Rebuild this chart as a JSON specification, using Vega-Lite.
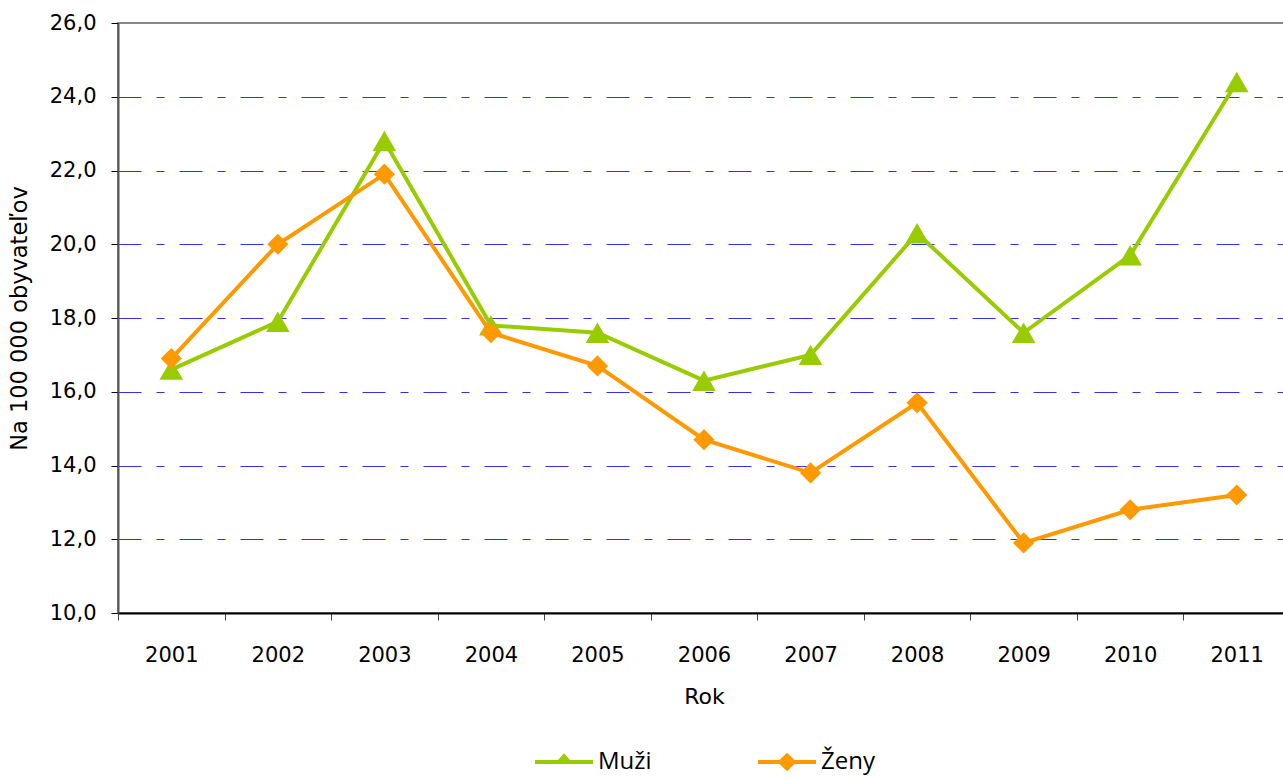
{
  "$schema": "https://vega.github.io/schema/vega-lite/v6.json",
  "width": 1172,
  "height": 590,
  "autosize": {"type": "none"},
  "padding": {"left": 118, "top": 23, "right": 0, "bottom": 165},
  "background": "white",
  "config": {
    "locale": {"number": {"decimal": ",", "thousands": " ", "grouping": [3], "currency": ["", " €"]}},
    "view": {"stroke": "#888888", "strokeWidth": 2},
    "axis": {"labelFont": "DejaVu Sans", "titleFont": "DejaVu Sans", "labelColor": "#000000", "titleColor": "#000000", "titleFontWeight": "normal"}
  },
  "data": {
    "values": [
      {"rok": "2001", "pohlavie": "Muži", "hodnota": 16.6},
      {"rok": "2002", "pohlavie": "Muži", "hodnota": 17.9},
      {"rok": "2003", "pohlavie": "Muži", "hodnota": 22.8},
      {"rok": "2004", "pohlavie": "Muži", "hodnota": 17.8},
      {"rok": "2005", "pohlavie": "Muži", "hodnota": 17.6},
      {"rok": "2006", "pohlavie": "Muži", "hodnota": 16.3},
      {"rok": "2007", "pohlavie": "Muži", "hodnota": 17.0},
      {"rok": "2008", "pohlavie": "Muži", "hodnota": 20.3},
      {"rok": "2009", "pohlavie": "Muži", "hodnota": 17.6},
      {"rok": "2010", "pohlavie": "Muži", "hodnota": 19.7},
      {"rok": "2011", "pohlavie": "Muži", "hodnota": 24.4},
      {"rok": "2001", "pohlavie": "Ženy", "hodnota": 16.9},
      {"rok": "2002", "pohlavie": "Ženy", "hodnota": 20.0},
      {"rok": "2003", "pohlavie": "Ženy", "hodnota": 21.9},
      {"rok": "2004", "pohlavie": "Ženy", "hodnota": 17.6},
      {"rok": "2005", "pohlavie": "Ženy", "hodnota": 16.7},
      {"rok": "2006", "pohlavie": "Ženy", "hodnota": 14.7},
      {"rok": "2007", "pohlavie": "Ženy", "hodnota": 13.8},
      {"rok": "2008", "pohlavie": "Ženy", "hodnota": 15.7},
      {"rok": "2009", "pohlavie": "Ženy", "hodnota": 11.9},
      {"rok": "2010", "pohlavie": "Ženy", "hodnota": 12.8},
      {"rok": "2011", "pohlavie": "Ženy", "hodnota": 13.2}
    ]
  },
  "encoding": {
    "x": {
      "field": "rok", "type": "ordinal", "title": "Rok",
      "scale": {"type": "band", "paddingInner": 0, "paddingOuter": 0},
      "axis": {
        "labelAngle": 0, "tickBand": "extent", "tickSize": 7, "tickColor": "#444444", "tickWidth": 1,
        "domainColor": "#000000", "domainWidth": 2, "labelFontSize": 21, "labelPadding": 24,
        "titleFontSize": 22, "titlePadding": 21, "grid": false
      }
    },
    "y": {
      "field": "hodnota", "type": "quantitative", "title": "Na 100 000 obyvateľov",
      "scale": {"domain": [10, 26], "nice": false, "zero": false},
      "axis": {
        "values": [10, 12, 14, 16, 18, 20, 22, 24, 26], "format": ".1f",
        "tickSize": 7, "tickColor": "#000000", "domainColor": "#555555", "domainWidth": 2,
        "labelFontSize": 21, "labelPadding": 15, "titleFontSize": 22.5, "titlePadding": 18,
        "grid": true, "gridColor": "#3030f0", "gridDash": [23, 15, 8, 15], "gridWidth": 1,
        "gridOpacity": {"condition": {"test": "datum.value === 26 || datum.value === 10", "value": 0}, "value": 1}
      }
    }
  },
  "layer": [
    {
      "transform": [{"filter": "datum.pohlavie === 'Muži'"}],
      "mark": {"type": "line", "color": "#99cc00", "strokeWidth": 4}
    },
    {
      "transform": [{"filter": "datum.pohlavie === 'Muži'"}],
      "mark": {"type": "point", "shape": "triangle-up", "filled": true, "opacity": 1, "size": 560, "color": "#99cc00"}
    },
    {
      "transform": [{"filter": "datum.pohlavie === 'Ženy'"}],
      "mark": {"type": "line", "color": "#ff9900", "strokeWidth": 4}
    },
    {
      "transform": [{"filter": "datum.pohlavie === 'Ženy'"}],
      "mark": {"type": "point", "shape": "diamond", "filled": true, "opacity": 1, "size": 450, "color": "#ff9900"}
    },
    {
      "transform": [{"filter": "false"}],
      "mark": {"type": "point", "filled": true, "opacity": 1},
      "encoding": {
        "color": {
          "field": "pohlavie", "type": "nominal",
          "scale": {"domain": ["Muži", "Ženy"], "range": ["#99cc00", "#ff9900"]},
          "legend": {"orient": "none", "legendX": 417, "legendY": 710, "direction": "horizontal", "title": null, "symbolSize": 3364, "symbolStrokeWidth": 0, "labelFont": "Open Sans", "labelFontSize": 24, "labelColor": "#000000", "columnPadding": 106, "labelOffset": 5}
        },
        "shape": {
          "field": "pohlavie", "type": "nominal",
          "scale": {"domain": ["Muži", "Ženy"], "range": ["M-1,-0.07L1,-0.07L1,0.07L-1,0.07Z M-0.33,0.07L0,-0.3L0.33,0.07Z", "M-1,-0.07L1,-0.07L1,0.07L-1,0.07Z M0,-0.32L0.33,0L0,0.32L-0.33,0Z"]},
          "legend": {"orient": "none", "legendX": 417, "legendY": 710, "direction": "horizontal", "title": null, "symbolSize": 3364, "symbolStrokeWidth": 0, "labelFont": "Open Sans", "labelFontSize": 24, "labelColor": "#000000", "columnPadding": 106, "labelOffset": 5}
        }
      }
    }
  ]
}
